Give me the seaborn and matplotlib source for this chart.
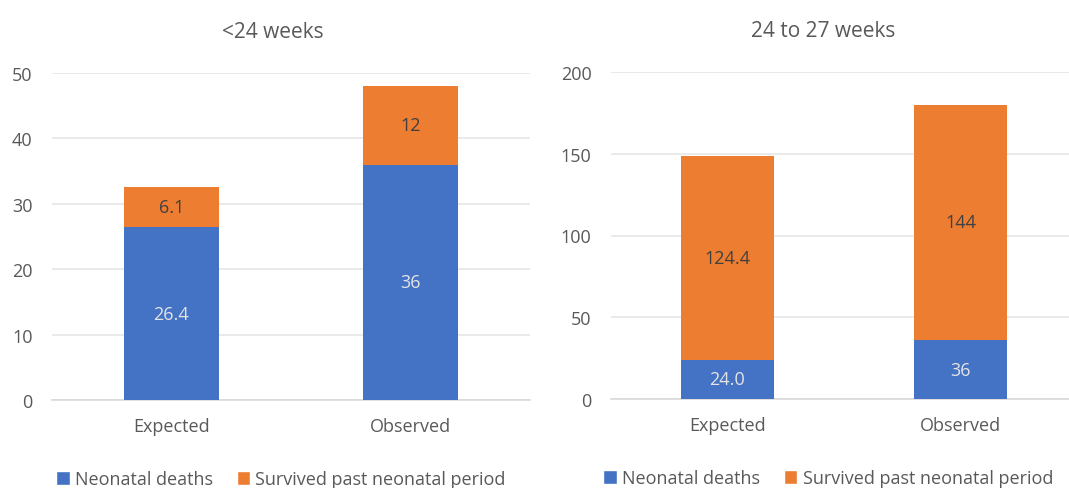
import matplotlib
matplotlib.use("Agg")
import matplotlib.pyplot as plt
from matplotlib.patches import Patch
import seaborn as sns
import pandas as pd

# Data
categories = ["Expected", "Observed"]
titles = ["<24 weeks", "24 to 27 weeks"]
deaths_lt24 = [26.4, 36]
survived_lt24 = [6.1, 12]
deaths_24_27 = [24.0, 36]
survived_24_27 = [124.4, 144]
death_labels_lt24 = ["26.4", "36"]
survived_labels_lt24 = ["6.1", "12"]
death_labels_24_27 = ["24.0", "36"]
survived_labels_24_27 = ["124.4", "144"]
yticks_lt24 = [0, 10, 20, 30, 40, 50]
yticks_24_27 = [0, 50, 100, 150, 200]

BLUE = "#4472C4"
ORANGE = "#ED7D31"
GREY = "#595959"
GRID = "#E6E6E6"

sns.set_theme(style="white")
plt.rcParams["font.family"] = ["Open Sans", "DejaVu Sans"]

fig = plt.figure(figsize=(10.69, 4.89), dpi=100)
W, H = 1069, 489
ax1 = fig.add_axes([52 / W, (H - 401) / H, 478 / W, 327 / H])
ax2 = fig.add_axes([611 / W, (H - 400) / H, 466 / W, 327 / H])

panels = [
    (ax1, deaths_lt24, survived_lt24, death_labels_lt24, survived_labels_lt24,
     yticks_lt24, titles[0], 0.462, 0.479),
    (ax2, deaths_24_27, survived_24_27, death_labels_24_27, survived_labels_24_27,
     yticks_24_27, titles[1], 0.455, 0.466),
]

for ax, deaths, survived, dlab, slab, yticks, title, tx, lx in panels:
    df = pd.DataFrame({
        "category": categories,
        "deaths": deaths,
        "total": [d + s for d, s in zip(deaths, survived)],
    })
    # Stacked bars: total in orange, neonatal deaths drawn over it in blue
    sns.barplot(data=df, x="category", y="total", color=ORANGE, saturation=1,
                width=0.4, ax=ax, zorder=3, edgecolor="none")
    sns.barplot(data=df, x="category", y="deaths", color=BLUE, saturation=1,
                width=0.4, ax=ax, zorder=4, edgecolor="none")

    for i, (d, s) in enumerate(zip(deaths, survived)):
        ax.text(i, d / 2, dlab[i], ha="center", va="center", fontsize=13,
                color="#E4E4E4", zorder=5)
        ax.text(i, d + s / 2, slab[i], ha="center", va="center", fontsize=13,
                color="#404040", zorder=5)

    ax.set_xlim(-0.5, 1.5)
    ax.set_ylim(0, yticks[-1])
    ax.set_yticks(yticks)
    ax.yaxis.grid(True, color=GRID, linewidth=1.2, zorder=0)
    ax.set_axisbelow(True)
    for sp in ["top", "right", "left"]:
        ax.spines[sp].set_visible(False)
    ax.spines["bottom"].set_color("#D9D9D9")
    ax.spines["bottom"].set_linewidth(1.2)
    ax.tick_params(axis="both", length=0, labelsize=13, colors=GREY)
    ax.tick_params(axis="y", pad=14)
    ax.tick_params(axis="x", pad=12)
    ax.set_xlabel("")
    ax.set_ylabel("")
    ax.set_title(title, fontsize=15, color=GREY, pad=26, x=tx)

    handles = [Patch(facecolor=BLUE, label="Neonatal deaths"),
               Patch(facecolor=ORANGE, label="Survived past neonatal period")]
    ax.legend(handles=handles, loc="upper center", bbox_to_anchor=(lx, -0.165),
              ncol=2, frameon=False, fontsize=13, handlelength=0.75,
              handleheight=0.75, handletextpad=0.3, columnspacing=1.3,
              labelcolor=GREY)

fig.savefig("out.png", dpi=100)
